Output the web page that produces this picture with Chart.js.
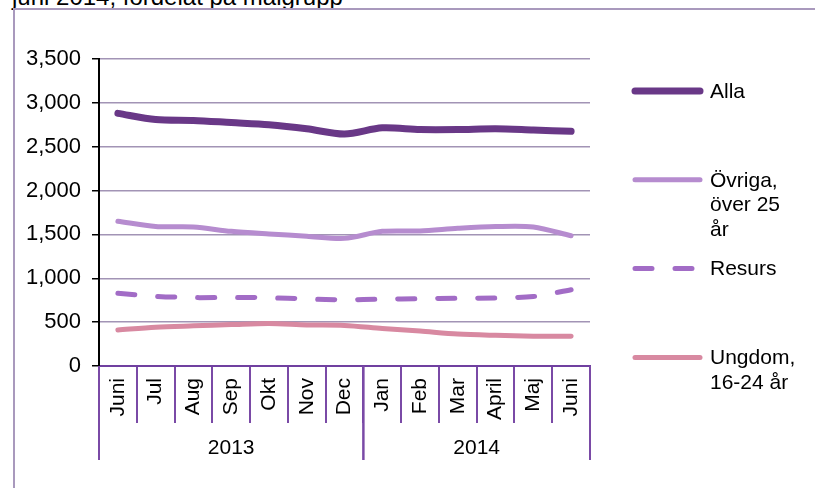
<!DOCTYPE html>
<html>
<head>
<meta charset="utf-8">
<script src="https://cdn.jsdelivr.net/npm/chart.js@4"></script>
<style>
  html, body { margin: 0; padding: 0; background: #fff; overflow: hidden; }
  #wrap { position: relative; width: 815px; height: 488px; overflow: hidden; }
  #frame { position: absolute; left: 13px; top: 8px; width: 810px; height: 490px;
           border-left: 2px solid #a999bd; border-top: 2px solid #a999bd; }
  #title { position: absolute; left: 12px; top: -15px; font: 24px "Liberation Sans", Arial, sans-serif;
           line-height: 24px; color: #000; white-space: nowrap; }
  #box { position: absolute; left: 0; top: 0; width: 815px; height: 488px; }
</style>
</head>
<body>
<div id="wrap">
  <div id="title">juni 2014, fördelat på målgrupp</div>
  <div id="frame"></div>
  <div id="box"><canvas id="lineChart"></canvas></div>
</div>
<script>
// months, June 2013 - June 2014
const months = ['Juni', 'Jul', 'Aug', 'Sep', 'Okt', 'Nov', 'Dec', 'Jan', 'Feb', 'Mar', 'April', 'Maj', 'Juni'];
const years = ['2013', '2014'];
const yearFirstIndex = [0, 7];
const yearLastIndex = [6, 12];

const alla    = [2880, 2810, 2800, 2775, 2750, 2705, 2645, 2715, 2695, 2695, 2705, 2690, 2675];
const ovriga  = [1650, 1590, 1585, 1535, 1505, 1480, 1455, 1535, 1540, 1570, 1590, 1585, 1485];
const resurs  = [830, 795, 780, 782, 778, 765, 755, 762, 768, 772, 776, 792, 870];
const ungdom  = [410, 442, 458, 472, 485, 468, 462, 428, 398, 365, 350, 340, 338];

const seriesNames = ['Alla', 'Övriga, över 25 år', 'Resurs', 'Ungdom, 16-24 år'];
const legendLines = [['Alla'], ['Övriga,', 'över 25', 'år'], ['Resurs'], ['Ungdom,', '16-24 år']];
const yTicks = [0, 500, 1000, 1500, 2000, 2500, 3000, 3500];

const FONT = '"Liberation Sans", Arial, sans-serif';

// year row under the month labels
const yearPlugin = {
  id: 'yearRow',
  afterDraw(chart) {
    const x = chart.scales.x;
    const ctx = chart.ctx;
    const step = x.getPixelForValue(1) - x.getPixelForValue(0);
    ctx.save();
    ctx.strokeStyle = '#7a4aa6';
    ctx.lineWidth = 2;
    ctx.fillStyle = '#000';
    ctx.font = '21px ' + FONT;
    ctx.textAlign = 'center';
    ctx.textBaseline = 'middle';
    years.forEach((yr, i) => {
      const left = x.getPixelForValue(yearFirstIndex[i]) - step / 2;
      const right = x.getPixelForValue(yearLastIndex[i]) + step / 2;
      ctx.beginPath();
      ctx.moveTo(left, x.top);
      ctx.lineTo(left, x.top + 94);
      ctx.moveTo(right, x.top);
      ctx.lineTo(right, x.top + 94);
      ctx.stroke();
      ctx.fillText(yr, (left + right) / 2, x.top + 82);
    });
    ctx.restore();
  }
};

// legend on the right, with wrapped labels
const legendPlugin = {
  id: 'sideLegend',
  afterDraw(chart) {
    const ctx = chart.ctx;
    ctx.save();
    ctx.font = '21px ' + FONT;
    ctx.textBaseline = 'middle';
    ctx.fillStyle = '#000';
    chart.data.datasets.forEach((ds, i) => {
      const y = 91 + i * 88.8;
      ctx.strokeStyle = ds.borderColor;
      ctx.lineWidth = ds.borderWidth;
      ctx.lineCap = 'round';
      ctx.setLineDash(ds.borderDash || []);
      ctx.beginPath();
      ctx.moveTo(635, y);
      ctx.lineTo(700, y);
      ctx.stroke();
      ctx.setLineDash([]);
      legendLines[i].forEach((t, j) => ctx.fillText(t, 710, y + 1 + j * 24.5));
    });
    ctx.restore();
  }
};

const datasets = [
  { label: seriesNames[0], data: alla,   borderColor: '#693887', borderWidth: 7 },
  { label: seriesNames[1], data: ovriga, borderColor: '#b68ccf', borderWidth: 5 },
  { label: seriesNames[2], data: resurs, borderColor: '#a26cc6', borderWidth: 5, borderDash: [17, 23] },
  { label: seriesNames[3], data: ungdom, borderColor: '#d889a1', borderWidth: 5 }
].map(d => Object.assign({
  fill: false,
  pointRadius: 0,
  tension: 0.3,
  borderCapStyle: 'round',
  borderJoinStyle: 'round'
}, d));

const ctx = document.getElementById('lineChart').getContext('2d');
new Chart(ctx, {
  type: 'line',
  data: { labels: months, datasets: datasets },
  options: {
    responsive: true,
    maintainAspectRatio: false,
    animation: false,
    layout: { padding: { top: 59, right: 225, left: 0, bottom: 0 } },
    plugins: { legend: { display: false }, tooltip: { enabled: false } },
    scales: {
      x: {
        offset: true,
        grid: { offset: true, drawOnChartArea: false, color: '#7a4aa6', lineWidth: 2, tickLength: 57 },
        border: { color: '#7040a0', width: 2 },
        ticks: {
          color: '#000', font: { family: FONT, size: 21 },
          minRotation: 90, maxRotation: 90, padding: -45, autoSkip: false
        },
        afterFit(scale) { scale.height = 122; }
      },
      y: {
        min: 0, max: 3500,
        afterBuildTicks(scale) { scale.ticks = yTicks.map(v => ({ value: v })); },
        grid: { color: '#a294b5', lineWidth: 1.5, tickColor: '#000', tickLength: 7 },
        border: { color: '#000', width: 2 },
        ticks: {
          color: '#000', font: { family: FONT, size: 22 }, padding: 11,
          callback: v => v.toLocaleString('en-US')
        },
        afterFit(scale) { scale.width = 99; }
      }
    }
  },
  plugins: [yearPlugin, legendPlugin]
});
</script>
</body>
</html>
